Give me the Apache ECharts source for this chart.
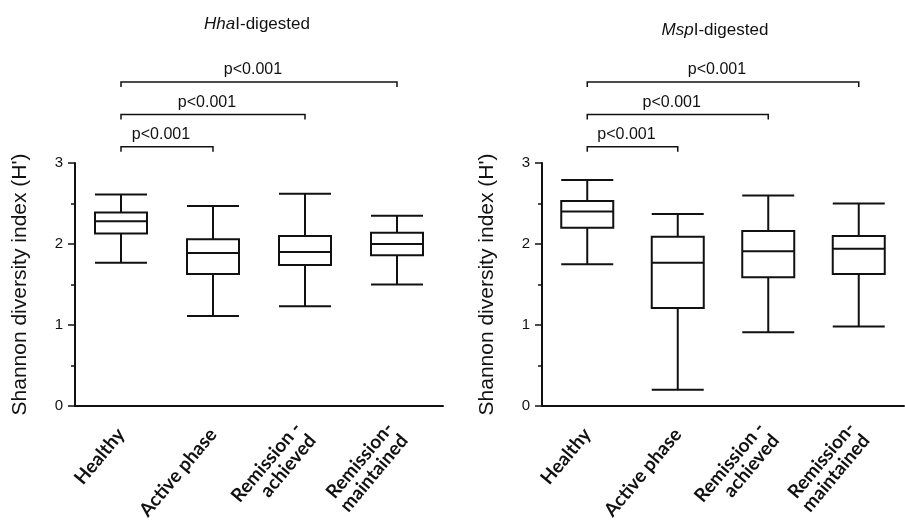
<!DOCTYPE html>
<html lang="en">
<head>
    <meta charset="UTF-8">
    <title>Shannon diversity</title>
    <style>
        *{ padding:0; margin:0; }
        html, body{ width:100%; height:100%; background:#fff; }
        #main{ width:905px; height:529px; }
    </style>
    <script src="https://cdn.jsdelivr.net/npm/echarts@6/dist/echarts.min.js"></script>
</head>
<body>
<div id="main"></div>
<script>
    // groups on the x axis
    var categories = ['Healthy', 'Active phase', 'Remission -\nachieved', 'Remission-\nmaintained'];

    // [min, Q1, median, Q3, max]
    var hhaBoxes = [
        [1.77, 2.13, 2.28, 2.39, 2.61],
        [1.11, 1.63, 1.89, 2.06, 2.47],
        [1.23, 1.74, 1.90, 2.10, 2.62],
        [1.50, 1.86, 2.00, 2.14, 2.35]
    ];
    var mspBoxes = [
        [1.75, 2.20, 2.40, 2.53, 2.79],
        [0.20, 1.21, 1.77, 2.09, 2.37],
        [0.91, 1.59, 1.91, 2.16, 2.60],
        [0.98, 1.63, 1.94, 2.10, 2.50]
    ];

    // significance brackets: [from group, to group, height in y units]
    var brackets = [[0, 1, 3.2], [0, 2, 3.6], [0, 3, 4.0]];
    var pLabels = ['p<0.001', 'p<0.001', 'p<0.001'];

    var yMin = 0, yMax = 3, yStep = 1;

    var ink = '#111';
    var font = '"Liberation Sans", Arial, sans-serif';

    function xAxisFor(i){
        return {
            type: 'category',
            gridIndex: i,
            data: categories,
            axisLine: { lineStyle: { color: ink, width: 2 } },
            axisTick: { alignWithLabel: true, length: 7, lineStyle: { color: ink, width: 1.5 } },
            axisLabel: {
                rotate: 50,
                margin: 25,
                color: ink,
                fontFamily: 'Lato, "Open Sans", sans-serif',
                fontWeight: 'bold',
                fontSize: 19,
                lineHeight: 19
            },
            splitLine: { show: false }
        };
    }

    function yAxisFor(i){
        return {
            type: 'value',
            gridIndex: i,
            min: yMin,
            max: yMax,
            interval: yStep,
            name: "Shannon diversity index (H')",
            nameLocation: 'middle',
            nameGap: 44,
            nameTextStyle: { color: ink, fontFamily: font, fontSize: 21 },
            axisLine: { show: true, lineStyle: { color: ink, width: 2 } },
            axisTick: { show: true, length: 7, lineStyle: { color: ink, width: 1.5 } },
            minorTick: { show: true, splitNumber: 2, length: 4, lineStyle: { color: ink, width: 1.5 } },
            axisLabel: { color: ink, fontFamily: font, fontSize: 15, margin: 12 },
            splitLine: { show: false }
        };
    }

    function boxSeries(i, data){
        return {
            type: 'boxplot',
            xAxisIndex: i,
            yAxisIndex: i,
            data: data,
            boxWidth: [52, 52],
            itemStyle: { color: '#fff', borderColor: ink, borderWidth: 2 },
            emphasis: { disabled: true },
            silent: true
        };
    }

    function bracketSeries(i){
        return {
            type: 'custom',
            xAxisIndex: i,
            yAxisIndex: i,
            clip: false,
            silent: true,
            encode: { x: [0, 1], y: 2 },
            data: brackets,
            renderItem: function(params, api){
                var a = api.coord([api.value(0), api.value(2)]);
                var b = api.coord([api.value(1), api.value(2)]);
                return {
                    type: 'group',
                    children: [{
                        type: 'polyline',
                        shape: { points: [[a[0], a[1] + 5], a, b, [b[0], b[1] + 5]] },
                        style: { stroke: ink, lineWidth: 1.5, fill: null }
                    }, {
                        type: 'text',
                        x: (a[0] + b[0]) / 2 - 6,
                        y: a[1] - 12,
                        style: {
                            text: pLabels[params.dataIndex],
                            align: 'center',
                            verticalAlign: 'middle',
                            fontFamily: font,
                            fontSize: 16,
                            fill: ink
                        }
                    }]
                };
            }
        };
    }

    var titleStyle = {
        color: ink,
        fontFamily: font,
        fontSize: 17,
        fontWeight: 'normal',
        rich: { i: { fontStyle: 'italic', fontFamily: font, fontSize: 17, color: ink } }
    };

    var chart = echarts.init(document.getElementById('main'), null, { renderer: 'canvas' });
    chart.setOption({
        backgroundColor: '#fff',
        animation: false,
        title: [
            { text: '{i|Hha}I-digested', left: 257, top: 16, padding: 0, textAlign: 'center', textStyle: titleStyle },
            { text: '{i|Msp}I-digested', left: 715, top: 22, padding: 0, textAlign: 'center', textStyle: titleStyle }
        ],
        grid: [
            { left: 75, top: 163, width: 368, height: 243 },
            { left: 542, top: 163, width: 362, height: 243 }
        ],
        xAxis: [xAxisFor(0), xAxisFor(1)],
        yAxis: [yAxisFor(0), yAxisFor(1)],
        series: [
            boxSeries(0, hhaBoxes),
            boxSeries(1, mspBoxes),
            bracketSeries(0),
            bracketSeries(1)
        ]
    });
</script>
</body>
</html>
